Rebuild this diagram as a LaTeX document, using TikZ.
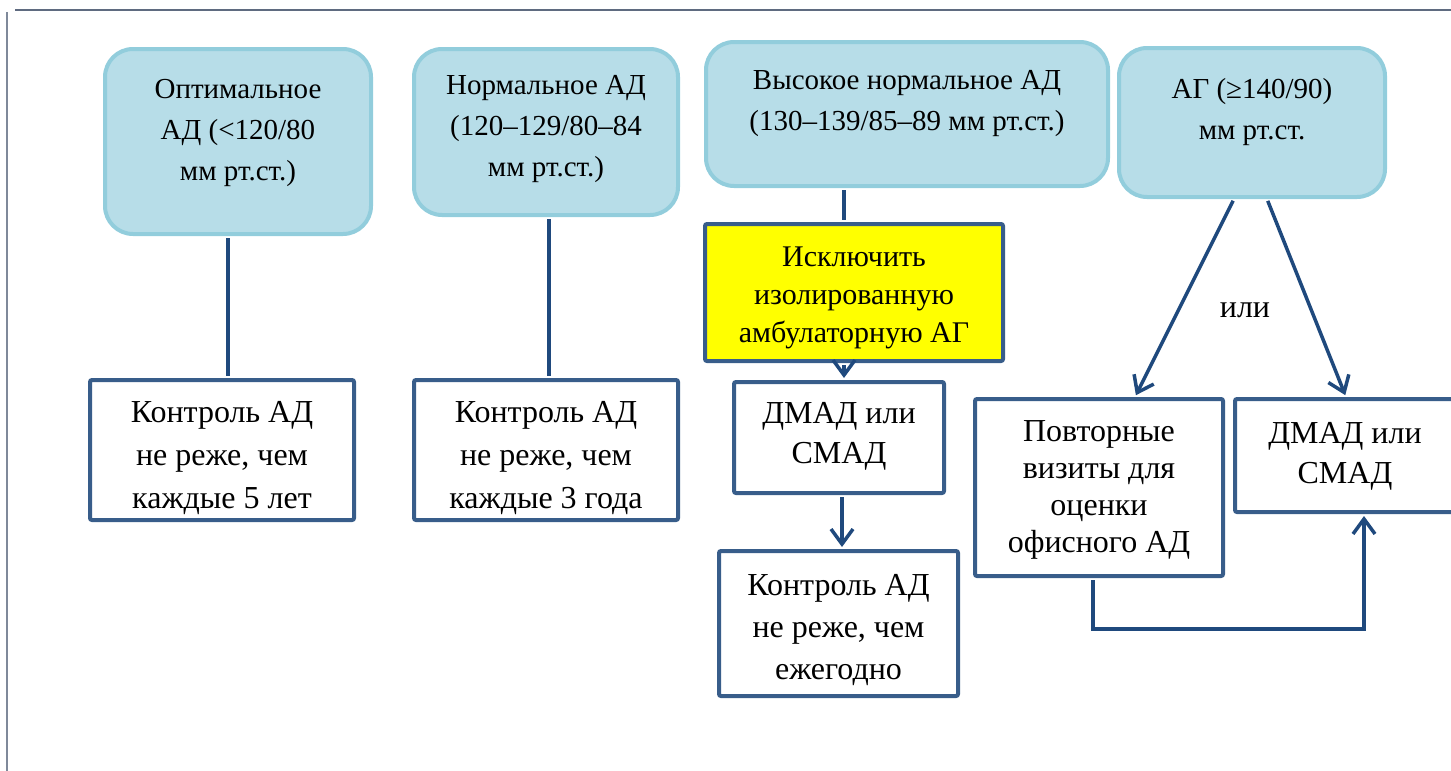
\documentclass[tikz,border=0pt]{standalone}
\usepackage{fontspec}
\setmainfont{Liberation Serif}
\usetikzlibrary{arrows.meta}
\definecolor{hdrfill}{HTML}{B7DDE8}
\definecolor{hdrline}{HTML}{92CDDC}
\definecolor{boxline}{HTML}{385D8A}
\definecolor{conncol}{HTML}{1F497D}
\definecolor{framecol}{HTML}{5F6B80}
\definecolor{yel}{HTML}{FFFF00}
\begin{document}
\begin{tikzpicture}[x=1pt,y=-1pt,
  hdr/.style={draw=hdrline, fill=hdrfill, line width=4pt, rounded corners=28pt, inner sep=0pt},
  bx/.style={draw=boxline, fill=white, line width=4pt, rounded corners=2pt, inner sep=0pt},
  lbl/.style={align=center, font=\fontsize{29}{41}\selectfont, inner sep=0pt},
  blbl/.style={align=center, font=\fontsize{32}{42}\selectfont, inner sep=0pt},
  conn/.style={draw=conncol, line width=3.5pt, shorten <=2pt, shorten >=2pt},
  arr/.style={conn, -{Straight Barb[length=15pt,width=22pt]}}
]
\useasboundingbox (0,0) rectangle (1451,771);
% frame lines
\coordinate (ftl) at (15,10);
\coordinate (ftr) at (1451,10);
\coordinate (fl1) at (7,12);
\coordinate (fl2) at (7,771);
\draw[framecol, line width=2pt] (ftl) -- (ftr);
\draw[framecol!80!white, line width=2pt] (fl1) -- (fl2);

% header boxes
\node[hdr, minimum width=266pt, minimum height=185pt] (h1) at (238,141.5) {};
\node[hdr, minimum width=264pt, minimum height=166pt] (h2) at (546,132) {};
\node[hdr, minimum width=402pt, minimum height=144pt] (h3) at (907,114) {};
\node[hdr, minimum width=266pt, minimum height=149pt] (h4) at (1252,122.5) {};
\node[lbl] (t1) at (238,133) {Оптимальное\\АД (<120/80\\мм рт.ст.)};
\node[lbl] (t2) at (546,129) {Нормальное АД\\(120–129/80–84\\мм рт.ст.)};
\node[lbl] (t3) at (907,104) {Высокое нормальное АД\\(130–139/85–89 мм рт.ст.)};
\node[lbl] (t4) at (1252,112) {АГ (≥140/90)\\мм рт.ст.};

% lower boxes
\node[bx, minimum width=264pt, minimum height=140pt] (k1) at (222,450) {};
\node[bx, minimum width=264pt, minimum height=140pt] (k2) at (546,450) {};
\node[bx, fill=yel, minimum width=298pt, minimum height=137pt] (yb) at (854,292.5) {};
\node[bx, minimum width=210pt, minimum height=111pt] (d1) at (839,437.5) {};
\node[bx, minimum width=239pt, minimum height=145pt] (k3) at (838.5,623.5) {};
\node[bx, minimum width=248pt, minimum height=177pt] (p) at (1099,487.5) {};
\node[bx, minimum width=220pt, minimum height=113pt] (d2) at (1345,455.5) {};

\node[blbl, font=\fontsize{32}{43}\selectfont] (tk1) at (222,458) {Контроль АД\\не реже, чем\\каждые 5 лет};
\node[blbl, font=\fontsize{32}{43}\selectfont] (tk2) at (546,458) {Контроль АД\\не реже, чем\\каждые 3 года};
\node[blbl, font=\fontsize{30}{38}\selectfont] (ty) at (854,298) {Исключить\\изолированную\\амбулаторную АГ};
\node[blbl, font=\fontsize{32}{40}\selectfont] (td1) at (839,436) {ДМАД или\\СМАД};
\node[blbl, font=\fontsize{32}{42}\selectfont] (tk3) at (838.5,630) {Контроль АД\\не реже, чем\\ежегодно};
\node[blbl, font=\fontsize{32}{37}\selectfont] (tp) at (1099,490) {Повторные\\визиты для\\оценки\\офисного АД};
\node[blbl, font=\fontsize{32}{40}\selectfont] (td2) at (1345,456) {ДМАД или\\СМАД};
\node[font=\fontsize{32}{35}\selectfont, inner sep=0pt] (ili) at (1245,310) {или};

% connectors
\coordinate (x1) at (228,0);
\coordinate (x2) at (549,0);
\coordinate (x3) at (844,0);
\coordinate (x4) at (842,0);
\coordinate (cb) at (1093,629);
\draw[conn] (h1.south -| x1) -- (k1.north -| x1);
\draw[conn] (h2.south -| x2) -- (k2.north -| x2);
\draw[conn] (h3.south -| x3) -- (yb.north -| x3);
\draw[arr] (yb.south -| x3) -- (d1.north -| x3);
\draw[arr] (d1.south -| x4) -- (k3.north -| x4);
\draw[arr] ([xshift=-18pt]h4.south) -- ([xshift=36pt]p.north);
\draw[arr] ([xshift=15pt]h4.south) -- ([xshift=1pt]d2.north);
\draw[arr] (p.south -| cb) -- (cb) -| ([xshift=19pt]d2.south);
\end{tikzpicture}
\end{document}
